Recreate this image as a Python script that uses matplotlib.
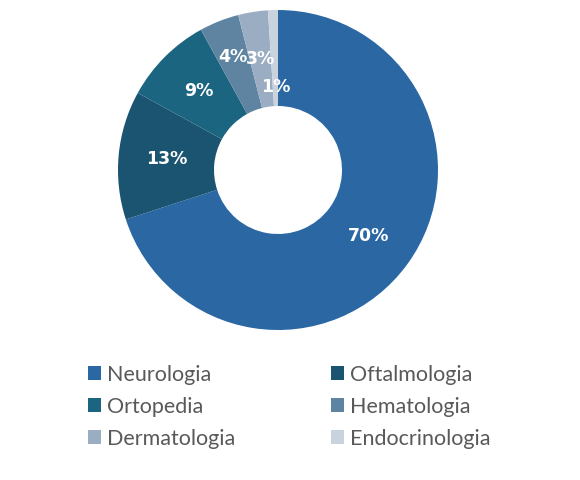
import numpy as np
import matplotlib
matplotlib.use("Agg")
import matplotlib.pyplot as plt
from matplotlib.patches import Patch

# data
especialidades = ["Neurologia", "Oftalmologia", "Ortopedia",
                  "Hematologia", "Dermatologia", "Endocrinologia"]
porcentagens = [70, 13, 9, 4, 3, 1]
cores = ["#2A67A3", "#1A5470", "#1B6581", "#5E84A2", "#9BADC3", "#C9D3DE"]

plt.rcParams['font.family'] = ['Lato', 'DejaVu Sans']

fig = plt.figure(figsize=(5.8, 4.8), dpi=100)
ax = fig.add_axes([118 / 580, 150 / 480, 320 / 580, 320 / 480])

wedges, _ = ax.pie(porcentagens, colors=cores, startangle=90, counterclock=False,
                   radius=1.0, wedgeprops=dict(width=0.6, linewidth=0))
ax.set_xlim(-1, 1)
ax.set_ylim(-1, 1)
ax.set_aspect('equal')
ax.axis('off')

# label radius per slice (small slices nudged like the original)
raios = [0.70, 0.70, 0.70, 0.76, 0.70, 0.52]
for w, p, r in zip(wedges, porcentagens, raios):
    ang = np.deg2rad((w.theta1 + w.theta2) / 2)
    ax.text(r * np.cos(ang), r * np.sin(ang), f"{p}%", color='white',
            fontsize=12.5, fontweight='bold', family='DejaVu Sans',
            ha='center', va='center')

# legend is filled row by row in the original
ordem = [0, 2, 4, 1, 3, 5]
handles = [Patch(facecolor=cores[i], edgecolor='none') for i in ordem]
nomes = [especialidades[i] for i in ordem]
fig.legend(handles, nomes, ncol=2, loc='upper left',
           bbox_to_anchor=(88 / 580, 1 - 365 / 480), frameon=False,
           fontsize=15.5, handlelength=0.62, handleheight=0.62, handletextpad=0.25,
           columnspacing=4.45, labelspacing=0.55, borderaxespad=0, borderpad=0,
           labelcolor='#595959')

fig.savefig("out.png", dpi=100)
